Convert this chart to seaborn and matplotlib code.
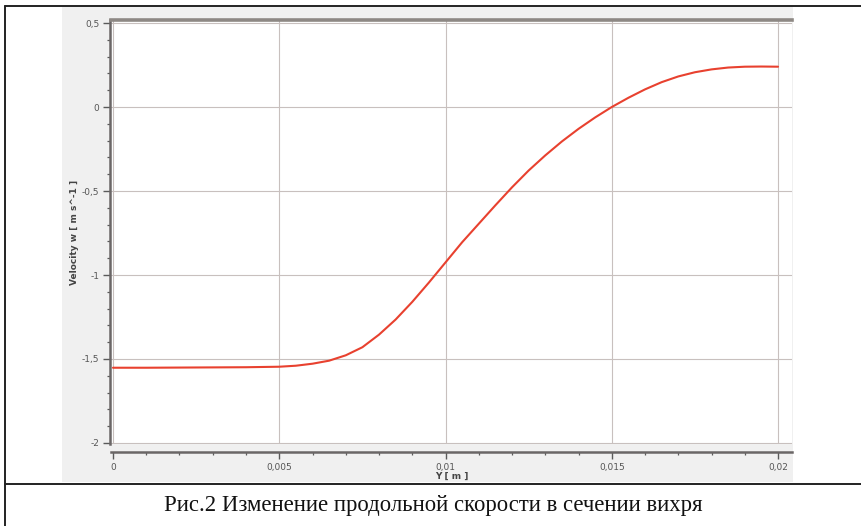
import matplotlib
matplotlib.use("Agg")
import matplotlib.pyplot as plt
import matplotlib.ticker as mticker
from matplotlib.lines import Line2D
from matplotlib.patches import Rectangle
import seaborn as sns
import pandas as pd

# Axial velocity profile across the vortex section
y_pos = [0.0, 0.001, 0.002, 0.003, 0.004, 0.005, 0.0055, 0.006, 0.0065, 0.007,
         0.0075, 0.008, 0.0085, 0.009, 0.0095, 0.010, 0.0105, 0.011, 0.0115,
         0.012, 0.0125, 0.013, 0.0135, 0.014, 0.0145, 0.015, 0.0155, 0.016,
         0.0165, 0.017, 0.0175, 0.018, 0.0185, 0.019, 0.0195, 0.020]
velocity_w = [-1.552, -1.552, -1.551, -1.550, -1.549, -1.546, -1.540, -1.528,
              -1.510, -1.478, -1.430, -1.355, -1.265, -1.160, -1.045, -0.925,
              -0.805, -0.695, -0.585, -0.478, -0.378, -0.288, -0.205, -0.130,
              -0.062, 0.000, 0.055, 0.105, 0.148, 0.182, 0.207, 0.224, 0.235,
              0.240, 0.241, 0.240]

x_ticks = [0.0, 0.005, 0.010, 0.015, 0.020]
x_tick_labels = ["0", "0,005", "0,01", "0,015", "0,02"]
y_ticks = [-2.0, -1.5, -1.0, -0.5, 0.0, 0.5]
y_tick_labels = ["-2", "-1,5", "-1", "-0,5", "0", "0,5"]

caption = "Рис.2 Изменение продольной скорости в сечении вихря"

W, H = 862, 526
sns.set_theme(style="white")
fig = plt.figure(figsize=(W / 100, H / 100), dpi=100)
fig.patch.set_facecolor("white")

def fx(px):
    return px / W

def fy(py):
    return 1 - py / H

# light grey panel behind the plot
fig.add_artist(Rectangle((fx(62), fy(482)), fx(793) - fx(62), fy(7) - fy(482),
                         transform=fig.transFigure, facecolor="#f0f0f0",
                         edgecolor="none", zorder=0))

# frame lines around the figure and caption
for (x0, y0, x1, y1) in [(5, 6, 862, 6), (5, 6, 5, 526), (5, 484, 862, 484)]:
    fig.add_artist(Line2D([fx(x0), fx(x1)], [fy(y0), fy(y1)],
                          transform=fig.transFigure, color="#222222", lw=1.4))

ax = fig.add_axes([fx(111), fy(444), fx(792) - fx(111), fy(20) - fy(444)])
ax.set_facecolor("white")

df = pd.DataFrame({"Y": y_pos, "w": velocity_w})
sns.lineplot(data=df, x="Y", y="w", ax=ax, color="#e8412f", lw=1.5, zorder=3)

ax.set_xlim(-0.00006, 0.02042)
ax.set_ylim(-2.006, 0.518)

ax.set_xticks(x_ticks)
ax.set_xticklabels(x_tick_labels, fontweight="bold")
ax.set_yticks(y_ticks)
ax.set_yticklabels(y_tick_labels, fontweight="bold")
ax.xaxis.set_minor_locator(mticker.MultipleLocator(0.001))
ax.yaxis.set_minor_locator(mticker.MultipleLocator(0.1))

ax.grid(True, which="major", color="#c8c0be", lw=0.8)
ax.set_axisbelow(True)

tick_color = "#5a5a5a"
ax.tick_params(axis="both", which="major", direction="out", length=5, width=1,
               color=tick_color, labelsize=6.5, labelcolor="#555555", pad=2.5)
ax.tick_params(axis="both", which="minor", direction="out", length=2.5,
               width=0.9, color=tick_color)
ax.tick_params(left=True, bottom=True, which="both")

ax.spines["right"].set_visible(False)
ax.spines["top"].set_color("#8d8884")
ax.spines["top"].set_linewidth(2.6)
ax.spines["left"].set_color("#6a6666")
ax.spines["left"].set_linewidth(1.8)
ax.spines["left"].set_position(("outward", 0.8))
ax.spines["bottom"].set_color("#6a6666")
ax.spines["bottom"].set_linewidth(1.8)
ax.spines["bottom"].set_position(("outward", 6))

ax.set_xlabel("Y [ m ]", fontsize=6.5, fontweight="bold", color="#444444",
              labelpad=0)
ax.set_ylabel("Velocity w [ m s^-1 ]", fontsize=6.5, fontweight="bold",
              color="#444444", labelpad=2)

fig.text(fx(433), fy(505), caption, ha="center", va="center",
         family="Liberation Serif", fontsize=16.4, color="#111111")

fig.savefig("out.png", dpi=100)
